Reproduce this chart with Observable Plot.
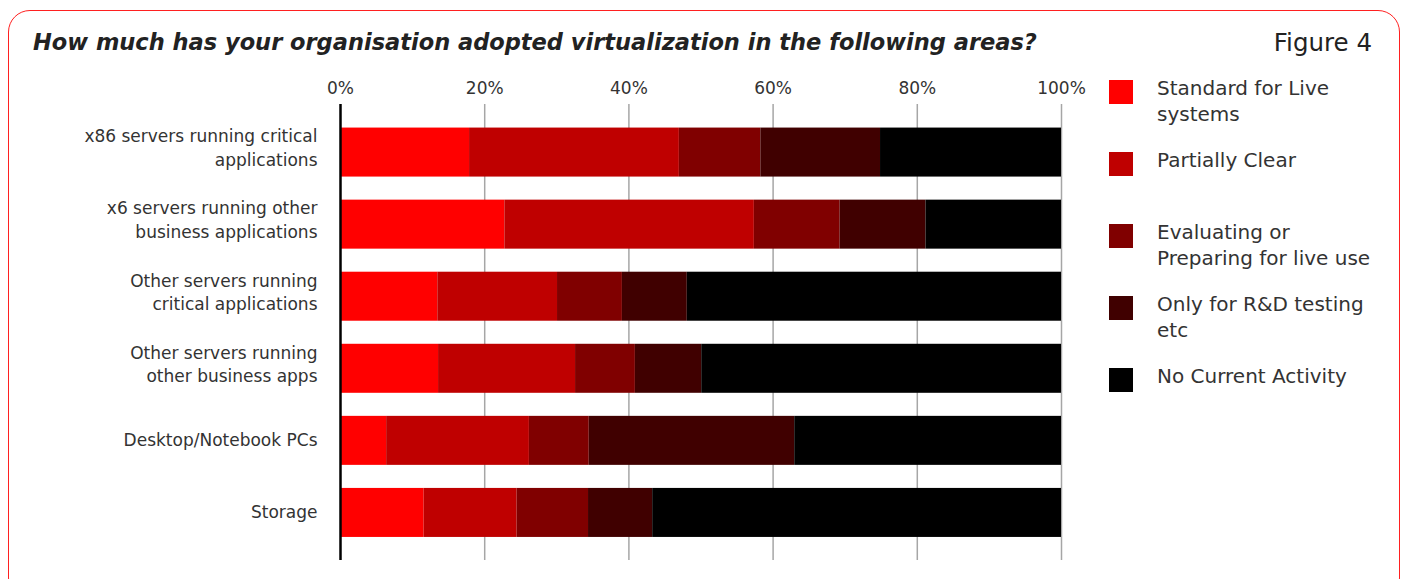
<!DOCTYPE html>
<html><head><meta charset="utf-8">
<script src="https://cdn.jsdelivr.net/npm/d3@7"></script>
<script src="https://cdn.jsdelivr.net/npm/@observablehq/plot@0.6"></script>
<style>
body{margin:0;background:#fff;font-family:"DejaVu Sans",sans-serif;}
#wrap{position:relative;width:1408px;height:579px;overflow:hidden;background:#fff;}
#border{position:absolute;left:8px;top:10px;width:1392px;height:590px;border:1.5px solid #ff2020;border-radius:22px;box-sizing:border-box;}
#title{position:absolute;left:33px;top:29px;font-weight:bold;font-style:italic;font-size:22.5px;color:#222;white-space:nowrap;}
#fig{position:absolute;right:36px;top:28px;font-size:24.5px;color:#222;}
#chart{position:absolute;left:0;top:0;}
.sw{position:absolute;left:1109px;width:24px;height:24px;}
.lt{position:absolute;left:1157px;font-size:20px;line-height:26px;color:#333;white-space:nowrap;}
</style></head>
<body>
<div id="wrap">
  <div id="border"></div>
  <div id="chart"></div>
  <div id="title"></div>
  <div id="fig"></div>
  <div id="legend"></div>
</div>
<script>
const titleText = "How much has your organisation adopted virtualization in the following areas?";
const figureText = "Figure 4";
const categories = [
  "x86 servers running critical\napplications",
  "x6 servers running other\nbusiness applications",
  "Other servers running\ncritical applications",
  "Other servers running\nother business apps",
  "Desktop/Notebook PCs",
  "Storage"
];
const series = ["Standard for Live\nsystems", "Partially Clear", "Evaluating or\nPreparing for live use", "Only for R&D testing\netc", "No Current Activity"];
const colors = ["#ff0000", "#bf0000", "#800000", "#400000", "#000000"];
const standardLive = [17.9, 22.8, 13.5, 13.6, 6.4, 11.6];
const partiallyClear = [29.1, 34.6, 16.6, 19.0, 19.8, 12.9];
const evaluating = [11.3, 11.9, 9.0, 8.3, 8.3, 9.9];
const rdTesting = [16.6, 11.9, 9.0, 9.2, 28.5, 8.9];
const noActivity = [25.1, 18.8, 51.9, 49.9, 37.0, 56.7];
const xTicks = [0, 20, 40, 60, 80, 100];

const seriesValues = [standardLive, partiallyClear, evaluating, rdTesting, noActivity];
const data = [];
categories.forEach((c, i) => {
  series.forEach((s, j) => data.push({category: c, series: s, value: seriesValues[j][i]}));
});

document.getElementById("title").textContent = titleText;
document.getElementById("fig").textContent = figureText;

const multiLine = categories.filter(c => c.includes("\n"));
const singleLine = categories.filter(c => !c.includes("\n"));

const chart = Plot.plot({
  width: 1408,
  height: 579,
  marginLeft: 340,
  marginRight: 347,
  marginTop: 104,
  marginBottom: 19,
  style: {fontFamily: "DejaVu Sans, sans-serif", color: "#333", background: "transparent"},
  x: {domain: [0, 100]},
  y: {domain: categories, range: [104.5, 560], padding: 0.32, round: false},
  color: {domain: series, range: colors},
  marks: [
    Plot.ruleX(xTicks.slice(1), {stroke: "#a6a6a6", strokeWidth: 1.5}),
    Plot.barX(data, Plot.stackX({x: "value", y: "category", fill: "series", order: series})),
    Plot.ruleX(xTicks.slice(0, 1), {stroke: "#000", strokeWidth: 2.5}),
    Plot.axisX(xTicks, {anchor: "top", tickSize: 0, tickPadding: 11, tickFormat: d => d + "%", fontSize: 17, label: null}),
    Plot.axisY(multiLine, {tickSize: 0, tickPadding: 23, fontSize: 17, lineHeight: 1.36, dy: -6, label: null}),
    Plot.axisY(singleLine, {tickSize: 0, tickPadding: 23, fontSize: 17, label: null})
  ]
});
document.getElementById("chart").appendChild(chart);

const legend = document.getElementById("legend");
series.forEach((s, j) => {
  const sw = document.createElement("div");
  sw.className = "sw";
  sw.style.top = (80 + 72 * j) + "px";
  sw.style.background = colors[j];
  legend.appendChild(sw);
  const lt = document.createElement("div");
  lt.className = "lt";
  lt.style.top = (75 + 72 * j) + "px";
  lt.innerHTML = s.split("\n").map(t => t.replace(/&/g, "&amp;")).join("<br>");
  legend.appendChild(lt);
});
</script>
</body></html>
